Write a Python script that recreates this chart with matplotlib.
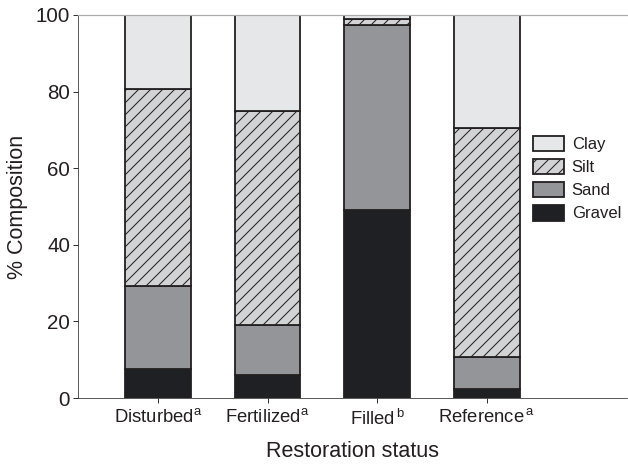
import matplotlib
matplotlib.use("Agg")
import matplotlib.pyplot as plt
import numpy as np

categories = ["Disturbed", "Fertilized", "Filled", "Reference"]
superscripts = ["a", "a", "b", "a"]
gravel = [7.5, 6.0, 49.0, 2.4]
sand = [21.8, 13.0, 48.4, 8.3]
silt = [51.4, 56.0, 1.6, 59.8]
clay = [19.3, 25.0, 1.0, 29.5]
components = ["Gravel", "Sand", "Silt", "Clay"]
legend_order = ["Clay", "Silt", "Sand", "Gravel"]
yticks = [0, 20, 40, 60, 80, 100]

plt.rcParams['font.family'] = ['Liberation Sans', 'DejaVu Sans']
plt.rcParams['mathtext.fontset'] = 'custom'
plt.rcParams['mathtext.rm'] = 'Liberation Sans'
plt.rcParams['hatch.linewidth'] = 1.0
plt.rcParams['hatch.color'] = '#231f20'

DPI = 72
fig = plt.figure(figsize=(628 / DPI, 464 / DPI), dpi=DPI)
ax = fig.add_axes([78 / 628, 1 - 398 / 464, (627 - 78) / 628, (398 - 15) / 464])

x = np.arange(len(categories))
width = 0.6
edge = '#231f20'
styles = {
    "Gravel": dict(color='#1f2023', hatch=None),
    "Sand": dict(color='#939598', hatch=None),
    "Silt": dict(color='#d1d3d4', hatch='//'),
    "Clay": dict(color='#e6e7e8', hatch=None),
}
data = {"Gravel": gravel, "Sand": sand, "Silt": silt, "Clay": clay}
bottom = np.zeros(len(categories))
handles = {}
for comp in components:
    vals = np.array(data[comp])
    b = ax.bar(x, vals, width, bottom=bottom, color=styles[comp]['color'],
               hatch=styles[comp]['hatch'], edgecolor=edge, linewidth=1.8,
               label=comp)
    handles[comp] = b
    bottom += vals

ax.set_xlim(-0.73, 4.28)
ax.set_ylim(0, 100)
ax.set_yticks(yticks)
ax.set_yticklabels([str(t) for t in yticks], fontsize=20.5, color='#231f20')
ax.set_xticks(x)
gaps = ["", "", "\\,", "\\,"]
ax.set_xticklabels([f"{c}$^{{{g}\\mathrm{{{s}}}}}$" for c, s, g in zip(categories, superscripts, gaps)],
                   fontsize=18.5, color='#231f20')
ax.tick_params(axis='y', direction='out', length=5, width=1, color='#333333', pad=3)
ax.tick_params(axis='x', direction='out', length=5, width=1, color='#333333', pad=5)
ax.set_ylabel("% Composition", fontsize=21.5, labelpad=8, color='#231f20')
ax.set_xlabel("Restoration status", fontsize=21.5, labelpad=12, color='#231f20')

ax.spines['right'].set_visible(False)
ax.spines['top'].set_color('#aaaaaa')
ax.spines['top'].set_linewidth(1.2)
ax.spines['left'].set_color('#333333')
ax.spines['bottom'].set_color('#333333')

leg = ax.legend([handles[c] for c in legend_order], legend_order,
                loc='center left', bbox_to_anchor=(0.829, 0.573), frameon=False,
                fontsize=16.6, handlelength=1.87, handleheight=1.07,
                handletextpad=0.45, labelspacing=0.4, borderpad=0, borderaxespad=0)
for t in leg.get_texts():
    t.set_color('#231f20')

fig.savefig("out.png", dpi=DPI)
